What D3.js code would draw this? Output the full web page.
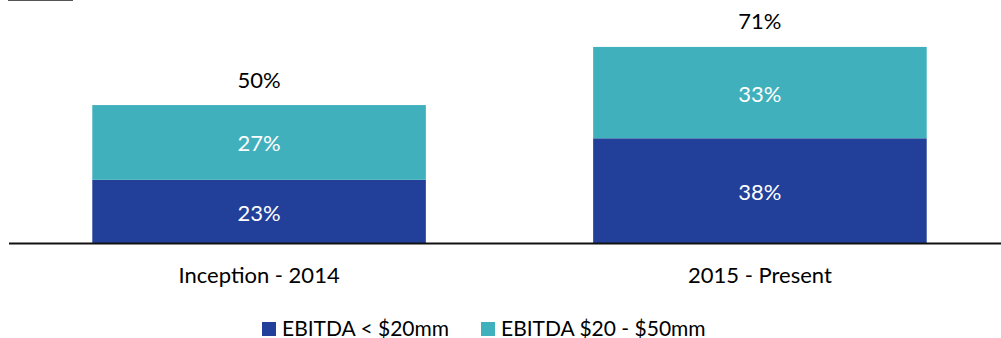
<!DOCTYPE html>
<html>
<head>
<meta charset="utf-8">
<script src="https://cdn.jsdelivr.net/npm/d3@7"></script>
<style>
  html, body { margin: 0; padding: 0; background: #fff; }
  svg { display: block; font-family: Lato, "Open Sans", sans-serif; }
</style>
</head>
<body>
<svg id="chart" width="1001" height="338"></svg>
<script>
// Share of deals by EBITDA band, per period
const periods = ["Inception - 2014", "2015 - Present"];
const seriesNames = ["EBITDA < $20mm", "EBITDA $20 - $50mm"];
const smallEbitda = [23, 38];   // EBITDA < $20mm
const midEbitda = [27, 33];     // EBITDA $20 - $50mm
const totals = [50, 71];
const colors = ["#22409A", "#41B0BD"];

const svg = d3.select("#chart");

const rows = periods.map((p, i) => ({ period: p, small: smallEbitda[i], mid: midEbitda[i], total: totals[i] }));
const stacked = d3.stack().keys(["small", "mid"])(rows);

const x = d3.scaleBand()
  .domain(periods)
  .range([-75, 1094])
  .paddingInner(0.334)
  .paddingOuter(0.334);

const y = d3.scaleLinear()
  .domain([0, 80])
  .range([243.5, 22]);

// short rule at the top-left corner
svg.append("line")
  .attr("x1", 8).attr("x2", 73)
  .attr("y1", 0.5).attr("y2", 0.5)
  .attr("stroke", "#555").attr("stroke-width", 1);

// stacked bars
const layers = svg.append("g").selectAll("g")
  .data(stacked)
  .join("g")
  .attr("fill", (d, i) => colors[i]);

layers.selectAll("rect")
  .data(d => d)
  .join("rect")
  .attr("x", d => x(d.data.period))
  .attr("width", x.bandwidth())
  .attr("y", d => y(d[1]))
  .attr("height", d => y(d[0]) - y(d[1]));

// segment value labels
layers.selectAll("text")
  .data(d => d)
  .join("text")
  .attr("x", d => x(d.data.period) + x.bandwidth() / 2)
  .attr("y", d => (y(d[0]) + y(d[1])) / 2 + 9)
  .attr("text-anchor", "middle")
  .attr("fill", "#fff")
  .attr("font-size", 22)
  .text(d => (d[1] - d[0]) + "%");

// totals above each bar
svg.append("g").selectAll("text")
  .data(rows)
  .join("text")
  .attr("x", d => x(d.period) + x.bandwidth() / 2)
  .attr("y", d => y(d.total) - 17.5)
  .attr("text-anchor", "middle")
  .attr("fill", "#000")
  .attr("font-size", 22)
  .text(d => d.total + "%");

// baseline axis
const axis = d3.axisBottom(x).tickSize(0).tickPadding(0);
const axisG = svg.append("g")
  .attr("transform", `translate(0,${y(0)})`)
  .call(axis);
axisG.select(".domain").remove();
axisG.append("line")
  .attr("x1", 9).attr("x2", 1001)
  .attr("stroke", "#111").attr("stroke-width", 2);
axisG.selectAll(".tick text")
  .attr("dy", null)
  .attr("y", 39.8)
  .attr("fill", "#000")
  .attr("font-size", 22)
  .attr("font-family", "Lato, 'Open Sans', sans-serif");

// legend
const legendX = [262, 481];
const legend = svg.append("g").selectAll("g")
  .data(seriesNames)
  .join("g")
  .attr("transform", (d, i) => `translate(${legendX[i]},322)`);
legend.append("rect")
  .attr("width", 14).attr("height", 14)
  .attr("fill", (d, i) => colors[i]);
legend.append("text")
  .attr("x", 20).attr("y", 13.5)
  .attr("fill", "#000")
  .attr("font-size", 21)
  .text(d => d);
</script>
</body>
</html>
